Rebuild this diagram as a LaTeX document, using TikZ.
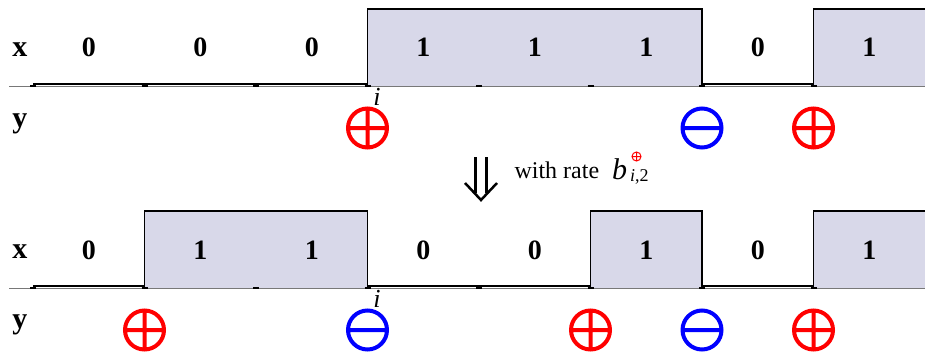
\documentclass[tikz,border=0pt]{standalone}
\usepackage{fontspec}
\setmainfont{Liberation Serif}
\usetikzlibrary{positioning}
\definecolor{cellfill}{RGB}{216,216,233}
\definecolor{axisgray}{RGB}{120,120,120}
\definecolor{plusred}{RGB}{255,0,0}
\definecolor{minusblue}{RGB}{0,0,255}
% plus / minus spin marks
\newcommand{\plusmark}[2]{\draw[spinmark,plusred] (#1,#2) circle[radius=19.5pt] (#1-19.5,#2)--(#1+19.5,#2) (#1,#2-19.5)--(#1,#2+19.5);}
\newcommand{\minusmark}[2]{\draw[spinmark,minusblue] (#1,#2) circle[radius=19.5pt] (#1-19.5,#2)--(#1+19.5,#2);}

\begin{document}
\begin{tikzpicture}[x=1pt,y=-1pt]
\tikzstyle{spinmark}=[line width=4pt]
\tikzstyle{bit}=[font=\fontsize{28}{28}\selectfont\bfseries]
\tikzstyle{rowlab}=[font=\fontsize{30}{30}\selectfont\bfseries]
\tikzstyle{site}=[font=\fontsize{26}{26}\selectfont\itshape]
\tikzstyle{signal}=[draw=black,line width=1.5pt]
\useasboundingbox (0,0) rectangle (925,356);
\clip (0,0) rectangle (925,356);
% top configuration
\foreach \v [count=\k] in {0,0,0,1,1,1,0,1}{
  \ifnum\v=1 \fill[cellfill] (33+111.5*\k-111.5,9) rectangle (33+111.5*\k,86); \fi
}
\draw[axisgray,line width=1pt] (9,86)--(925,86);
\draw[signal] (33,84)--(367.5,84)--(367.5,9)--(702,9)--(702,84)--(813.5,84)--(813.5,9)--(935,9);
\foreach \v [count=\k] in {0,0,0,1,1,1,0,1}{
  \node[bit] (top\k) at (33+111.5*\k-55.75,47) {\v};
  \draw[line width=2pt] (33+111.5*\k-114.5,86)--(33+111.5*\k-108.5,86);
}
\node[rowlab] (xtop) at (20,50) {x};
\node[rowlab] (ytop) at (20,124) {y};
\node[site] (itop) at (377,97) {i};
\plusmark{367.5}{128}
\minusmark{702}{128}
\plusmark{813.5}{128}
% transition
\draw[line width=2.5pt] (475.5,157)--(475.5,193) (486.5,157)--(486.5,193);
\draw[line width=2.5pt,line join=miter] (465,183)--(481,200)--(497,183);
\node[anchor=west,font=\fontsize{24}{24}\selectfont] (rate) at (511,170) {with rate};
\node[anchor=west,inner sep=0pt,font=\fontsize{30}{30}\selectfont\itshape] (bval) at (612,169) {b};
\draw[plusred,line width=1pt] (636.5,156.5) circle[radius=4.5pt] (632,156.5)--(641,156.5) (636.5,152)--(636.5,161);
\node[anchor=west,inner sep=0pt,font=\fontsize{18}{18}\selectfont] (bsub) at (630,177) {\textit{i},2};
% bottom configuration
\foreach \v [count=\k] in {0,1,1,0,0,1,0,1}{
  \ifnum\v=1 \fill[cellfill] (33+111.5*\k-111.5,211) rectangle (33+111.5*\k,288); \fi
}
\draw[axisgray,line width=1pt] (9,288)--(925,288);
\draw[signal] (33,286)--(144.5,286)--(144.5,211)--(367.5,211)--(367.5,286)--(590.5,286)--(590.5,211)--(702,211)--(702,286)--(813.5,286)--(813.5,211)--(935,211);
\foreach \v [count=\k] in {0,1,1,0,0,1,0,1}{
  \node[bit] (bot\k) at (33+111.5*\k-55.75,250) {\v};
  \draw[line width=2pt] (33+111.5*\k-114.5,288)--(33+111.5*\k-108.5,288);
}
\node[rowlab] (xbot) at (20,252) {x};
\node[rowlab] (ybot) at (20,325) {y};
\node[site] (ibot) at (377,299) {i};
\plusmark{144.5}{330}
\minusmark{367.5}{330}
\plusmark{590.5}{330}
\minusmark{702}{330}
\plusmark{813.5}{330}
\end{tikzpicture}
\end{document}
